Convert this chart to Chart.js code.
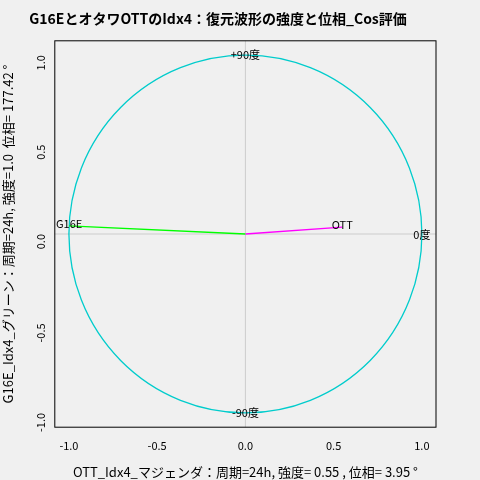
<!DOCTYPE html>
<html><head><meta charset="utf-8">
<script src="https://cdn.jsdelivr.net/npm/chart.js@4"></script>
<style>html,body{margin:0;background:#f0f0f0}#w{width:480px;height:480px}</style>
</head><body><div id="w"><canvas id="c"></canvas></div>
<script>
const seriesNames = ["G16E", "OTT"];
const strengths = [1.0, 0.55];
const phasesDeg = [177.42, 3.95];
const colors = ["#00ff00", "#ff00ff"];
const ticks = [-1.0, -0.5, 0.0, 0.5, 1.0];
const circleLabels = [["+90度", 0, 1], ["-90度", 0, -1], ["0度", 1, 0]];

const datasets = seriesNames.map((n, i) => {
  const r = strengths[i], a = phasesDeg[i] * Math.PI / 180;
  return {label: n, data: [{x:0,y:0},{x:r*Math.cos(a), y:r*Math.sin(a)}],
    showLine:true, borderColor:colors[i], borderWidth:1.3, pointRadius:0};
});
const F = "'Noto Sans CJK JP', 'Noto Sans', sans-serif";
const deco = {
  id:'deco',
  beforeDatasetsDraw(ch){
    const {ctx, scales:{x,y}, chartArea:a} = ch;
    ctx.save();
    ctx.strokeStyle='#cccccc'; ctx.lineWidth=1;
    ctx.beginPath();
    ctx.moveTo(x.getPixelForValue(0), a.top); ctx.lineTo(x.getPixelForValue(0), a.bottom);
    ctx.moveTo(a.left, y.getPixelForValue(0)); ctx.lineTo(a.right, y.getPixelForValue(0));
    ctx.stroke();
    const cx=x.getPixelForValue(0), cy=y.getPixelForValue(0);
    ctx.strokeStyle='#00cccc'; ctx.lineWidth=1.3;
    ctx.beginPath();
    ctx.ellipse(cx, cy, x.getPixelForValue(1)-cx, cy-y.getPixelForValue(1), 0, 0, 2*Math.PI);
    ctx.stroke();
    ctx.restore();
  },
  afterDatasetsDraw(ch){
    const {ctx, scales:{x,y}, chartArea:a} = ch;
    ctx.save();
    ctx.font='11px '+F; ctx.fillStyle='#000'; ctx.textBaseline='middle';
    ctx.textAlign='center';
    circleLabels.forEach(([t,vx,vy])=>{
      ctx.fillText(t, x.getPixelForValue(vx), y.getPixelForValue(vy)+ (vx?1:0));
    });
    ch.data.datasets.forEach(d=>{
      const p=d.data[1];
      ctx.fillText(d.label, x.getPixelForValue(p.x), y.getPixelForValue(p.y)-2);
    });
    ctx.strokeStyle='#000'; ctx.lineWidth=1;
    ctx.strokeRect(a.left, a.top, a.right-a.left, a.bottom-a.top);
    ctx.restore();
  }
};
new Chart(document.getElementById('c'), {
  type:'scatter', data:{datasets},
  options:{responsive:true, maintainAspectRatio:false, animation:false,
    layout:{padding:{top:0,right:44,bottom:0,left:0}},
    plugins:{legend:{display:false}, tooltip:{enabled:false},
      title:{display:true, text:'G16EとオタワOTTのIdx4：復元波形の強度と位相_Cos評価', color:'#000',
        font:{family:F, size:14, weight:'bold'}, padding:{top:10,bottom:14}}},
    scales:{
      x:{min:-1.08,max:1.08, afterBuildTicks:s=>{s.ticks=ticks.map(v=>({value:v}))},
        grid:{display:false}, border:{display:false},
        ticks:{color:'#000', font:{family:F,size:11}, padding:4, callback:v=>v.toFixed(1)},
        title:{display:true, text:'OTT_Idx4_マジェンダ：周期=24h, 強度= 0.55 , 位相= 3.95 °', color:'#000', font:{family:F,size:13}, padding:{top:8,bottom:0}}},
      y:{min:-1.08,max:1.08, afterBuildTicks:s=>{s.ticks=ticks.map(v=>({value:v}))},
        grid:{display:false}, border:{display:false},
        ticks:{color:'#000', font:{family:F,size:11}, padding:6, callback:v=>v.toFixed(1), maxRotation:90, minRotation:90, align:'center'},
        title:{display:true, text:'G16E_Idx4_グリーン：周期=24h, 強度=1.0  位相= 177.42 °', color:'#000', font:{family:F,size:13}, padding:{top:0,bottom:6}}}
    }},
  plugins:[deco]
});
</script></body></html>
